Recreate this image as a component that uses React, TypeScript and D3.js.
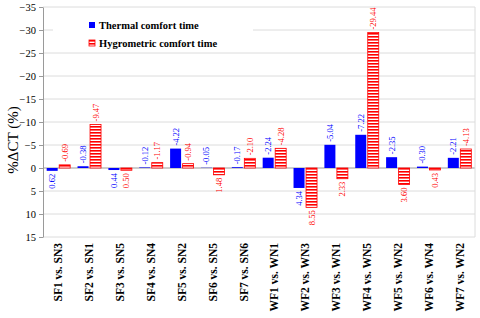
import { useEffect, useRef } from "react";
import * as d3 from "d3";

const categories = [
  "SF1 vs. SN3", "SF2 vs. SN1", "SF3 vs. SN5", "SF4 vs. SN4", "SF5 vs. SN2",
  "SF6 vs. SN5", "SF7 vs. SN6", "WF1 vs. WN1", "WF2 vs. WN3", "WF3 vs. WN1",
  "WF4 vs. WN5", "WF5 vs. WN2", "WF6 vs. WN4", "WF7 vs. WN2"
];
const thermal = [0.62, -0.38, 0.44, -0.12, -4.22, -0.05, -0.17, -2.24, 4.34, -5.04, -7.22, -2.35, -0.30, -2.21];
const hygro = [-0.69, -9.47, 0.50, -1.17, -0.94, 1.48, -2.10, -4.28, 8.55, 2.33, -29.44, 3.60, 0.43, -4.13];
const yTicks = [-35, -30, -25, -20, -15, -10, -5, 0, 5, 10, 15];

export default function App() {
  const ref = useRef<SVGSVGElement>(null);

  useEffect(() => {
    const svg = d3.select(ref.current);
    svg.selectAll("*").remove();

    const width = 480;
    const height = 318;
    const margin = { top: 7, right: 5, bottom: 81, left: 43 };
    const font = "'Liberation Serif', 'Times New Roman', serif";

    svg.attr("width", width).attr("height", height);

    const defs = svg.append("defs");
    const pat = defs.append("pattern")
      .attr("id", "stripes")
      .attr("patternUnits", "userSpaceOnUse")
      .attr("width", 6)
      .attr("height", 3);
    pat.append("rect").attr("width", 6).attr("height", 3).attr("fill", "#fff");
    pat.append("rect").attr("width", 6).attr("height", 1.6).attr("fill", "#ff0000");

    const x = d3.scaleBand()
      .domain(categories)
      .range([margin.left, width - margin.right]);

    const y = d3.scaleLinear()
      .domain([-35, 15])
      .range([margin.top, height - margin.bottom]);

    // grid
    svg.append("g")
      .selectAll("line")
      .data(yTicks)
      .join("line")
      .attr("x1", margin.left)
      .attr("x2", width - margin.right)
      .attr("y1", d => y(d))
      .attr("y2", d => y(d))
      .attr("stroke", d => (d === 0 ? "#9a9a9a" : "#dcdcdc"))
      .attr("stroke-width", 1);

    svg.append("line")
      .attr("x1", width - margin.right)
      .attr("x2", width - margin.right)
      .attr("y1", margin.top)
      .attr("y2", height - margin.bottom)
      .attr("stroke", "#dcdcdc");

    // legend backdrop
    svg.append("rect")
      .attr("x", 53)
      .attr("y", 13)
      .attr("width", 200)
      .attr("height", 37)
      .attr("fill", "#fff");

    // y axis
    const yAxis = svg.append("g")
      .attr("transform", `translate(${margin.left},0)`)
      .call(d3.axisLeft(y).tickValues(yTicks).tickSize(4).tickSizeOuter(0).tickFormat(d3.format("d")));
    yAxis.select(".domain").attr("stroke", "#9a9a9a");
    yAxis.selectAll(".tick line").attr("stroke", "#9a9a9a");
    yAxis.selectAll("text")
      .attr("font-family", font)
      .attr("font-size", 10.5)
      .attr("fill", "#000")
      .attr("x", -7);

    svg.append("text")
      .attr("transform", `translate(18,${140}) rotate(-90)`)
      .attr("text-anchor", "middle")
      .attr("font-family", font)
      .attr("font-size", 15)
      .text("%ΔCT (%)");

    const barW = 11;
    const gap = 1.5;
    const cx = (c: string) => (x(c) as number) + x.bandwidth() / 2;

    const series = [
      { values: thermal, color: "#0000ff", fill: "#0000ff", offset: -barW - gap / 2 },
      { values: hygro, color: "#ff0000", fill: "url(#stripes)", offset: gap / 2 }
    ];

    series.forEach(s => {
      const g = svg.append("g");
      g.selectAll("rect")
        .data(s.values)
        .join("rect")
        .attr("x", (d, i) => cx(categories[i]) + s.offset)
        .attr("y", d => Math.min(y(d), y(0)))
        .attr("width", barW)
        .attr("height", d => Math.abs(y(d) - y(0)))
        .attr("fill", s.fill)
        .attr("stroke", s.color === "#ff0000" ? "#ff0000" : "none")
        .attr("stroke-width", 0.8);

      g.selectAll("text")
        .data(s.values)
        .join("text")
        .attr("transform", (d, i) => {
          const tx = cx(categories[i]) + s.offset + barW / 2;
          const ty = d < 0 ? y(d) - 3 : y(d) + 3;
          return `translate(${tx},${ty}) rotate(-90)`;
        })
        .attr("text-anchor", d => (d < 0 ? "start" : "end"))
        .attr("dy", "0.35em")
        .attr("font-family", font)
        .attr("font-size", 8.5)
        .attr("fill", s.color)
        .text(d => d.toFixed(2));
    });

    // category labels
    svg.append("g")
      .selectAll("text")
      .data(categories)
      .join("text")
      .attr("transform", d => `translate(${cx(d)},${y(15) + 6}) rotate(-90)`)
      .attr("text-anchor", "end")
      .attr("dy", "0.35em")
      .attr("font-family", font)
      .attr("font-weight", "bold")
      .attr("font-size", 11.5)
      .text(d => d);

    // legend
    const legend = [
      { label: "Thermal comfort time", fill: "#0000ff", stroke: "none" },
      { label: "Hygrometric comfort time", fill: "url(#stripes)", stroke: "#ff0000" }
    ];
    const lg = svg.append("g").selectAll("g")
      .data(legend)
      .join("g")
      .attr("transform", (d, i) => `translate(89,${22 + i * 18})`);
    lg.append("rect")
      .attr("width", 6)
      .attr("height", 6)
      .attr("fill", d => d.fill)
      .attr("stroke", d => d.stroke)
      .attr("stroke-width", 0.8);
    lg.append("text")
      .attr("x", 10)
      .attr("y", 3)
      .attr("dy", "0.35em")
      .attr("font-family", font)
      .attr("font-weight", "bold")
      .attr("font-size", 10.5)
      .text(d => d.label);
  }, []);

  return <svg ref={ref} style={{ position: "absolute", left: 0, top: 0 }}></svg>;
}
